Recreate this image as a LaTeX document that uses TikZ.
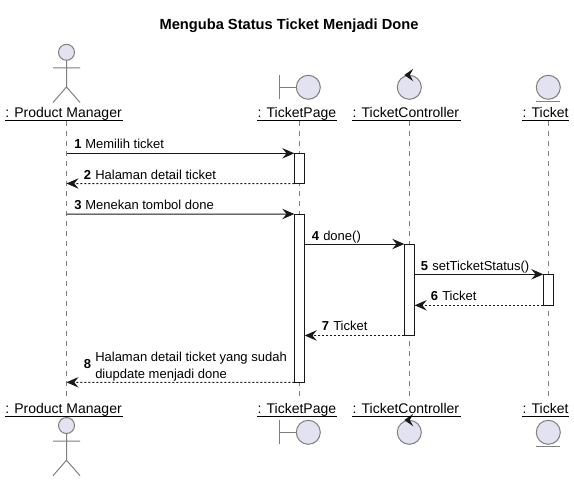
\documentclass[tikz,border=0pt]{standalone}
\usepackage{fontspec}
\setmainfont{Liberation Sans}
\usetikzlibrary{arrows.meta}
\definecolor{inkc}{HTML}{181818}
\definecolor{figfill}{HTML}{E2E2F0}
\definecolor{figline}{HTML}{7F7F7F}
\newcommand{\mfont}{\fontsize{9.75pt}{12.4pt}\selectfont}
\newcommand{\pfont}{\fontsize{10.5pt}{12.6pt}\selectfont}
\newcommand{\tfont}{\fontsize{11pt}{13pt}\selectfont}
\tikzset{
  x=.75pt,y=-.75pt,
  figstroke/.style={draw=figline,line width=.75pt},
  figbody/.style={figstroke,fill=figfill},
  lifeline/.style={draw=figline,line width=.7pt,dash pattern=on 3.75pt off 3.75pt},
  actbox/.style={draw=inkc,fill=white,line width=.75pt,minimum width=7.8pt,inner sep=0pt,outer sep=0pt},
  msg/.style={draw=inkc,line width=.75pt,-{Stealth[length=9pt,width=7.8pt,inset=3.2pt]}},
  reply/.style={msg,dash pattern=on 1.5pt off 1.5pt},
  msgtext/.style={anchor=base west,inner sep=0pt,font=\mfont,text=black},
  numtext/.style={anchor=base west,inner sep=0pt,font=\mfont\bfseries,text=black},
  parttext/.style={anchor=base west,inner sep=0pt,font=\pfont,text=black},
  under/.style={draw=black,line width=.7pt},
  pics/actorfig/.style={code={
    \draw[figbody] (0,-8.2) circle[radius=8];
    \draw[figstroke] (0,0) -- (0,26.5) (-13.5,7.5) -- (13.5,7.5) (0,26.5) -- (-13.5,42) (0,26.5) -- (13.5,42);
  }},
  pics/boundaryfig/.style={code={
    \draw[figstroke] (-29,-12) -- (-29,12) (-29,0) -- (-12,0);
    \draw[figbody] (0,0) circle[radius=12];
  }},
  pics/controlfig/.style={code={
    \draw[figbody] (0,0) circle[radius=12];
    \fill[inkc] (-5,-12.3) -- (4,-18.5) -- (0.5,-12.3) -- (4,-6) -- cycle;
  }},
  pics/entityfig/.style={code={
    \draw[figbody] (0,0) circle[radius=12];
    \draw[figstroke] (-12,14) -- (12,14);
  }},
}
\begin{document}
\begin{tikzpicture}
\useasboundingbox[fill=white] (0,0) rectangle (574,481);

% title
\node[anchor=base,inner sep=0pt,font=\tfont\bfseries] (title) at (289,30) {Menguba Status Ticket Menjadi Done};

% lifeline ends
\coordinate (pmT) at (66.5,121);  \coordinate (pmB) at (66.5,400);
\coordinate (tpT) at (299.3,121); \coordinate (tpB) at (299.3,400);
\coordinate (tcT) at (409.3,121); \coordinate (tcB) at (409.3,400);
\coordinate (tkT) at (548.3,121); \coordinate (tkB) at (548.3,400);
\draw[lifeline] (pmT) -- (pmB);
\draw[lifeline] (tpT) -- (tpB);
\draw[lifeline] (tcT) -- (tcB);
\draw[lifeline] (tkT) -- (tkB);

% figures, top
\pic at (66.5,60.5) {actorfig};
\pic at (308.3,87.3) {boundaryfig};
\pic at (409.3,87.3) {controlfig};
\pic at (548.3,87.3) {entityfig};
% figures, bottom
\pic at (66.5,433.7) {actorfig};
\pic at (308.3,432.3) {boundaryfig};
\pic at (409.3,432.3) {controlfig};
\pic at (548.3,432.3) {entityfig};

% participant labels, top
\node[parttext] (pmL) at (5,117.5) {: Product Manager};
\node[parttext] (tpL) at (257.3,117.5) {: TicketPage};
\node[parttext] (tcL) at (352.3,117.5) {: TicketController};
\node[parttext] (tkL) at (522.3,117.5) {: Ticket};
\draw[under] (5,120) -- (122.7,120);
\draw[under] (257.3,120) -- (336.7,120);
\draw[under] (352.3,120) -- (460.5,120);
\draw[under] (522.3,120) -- (568.7,120);
% participant labels, bottom
\node[parttext] (pmM) at (5,413.3) {: Product Manager};
\node[parttext] (tpM) at (257.3,413.3) {: TicketPage};
\node[parttext] (tcM) at (352.3,413.3) {: TicketController};
\node[parttext] (tkM) at (522.3,413.3) {: Ticket};
\draw[under] (5,416.3) -- (122.7,416.3);
\draw[under] (257.3,416.3) -- (336.7,416.3);
\draw[under] (352.3,416.3) -- (460.5,416.3);
\draw[under] (522.3,416.3) -- (568.7,416.3);

% activations
\node[actbox,minimum height=22.65pt] (a1) at (299.5,168.4) {};
\node[actbox,minimum height=126.2pt] (a2) at (299.5,298.15) {};
\node[actbox,minimum height=68.6pt] (a3) at (409.5,289.75) {};
\node[actbox,minimum height=23.25pt] (a4) at (548.5,289.8) {};

% message anchors on the actor lifeline
\coordinate (m1) at (66.5,153.3);
\coordinate (m2) at (66.5,183.5);
\coordinate (m3) at (66.5,214);
\coordinate (m8) at (66.5,382.3);

% messages
\draw[msg] (m1) -- (a1.north west);
\draw[reply] (a1.south west) -- (m2);
\draw[msg] (m3) -- (a2.north west);
\draw[msg] (a2.east |- a3.north) -- (a3.north west);
\draw[msg] (a3.east |- a4.north) -- (a4.north west);
\draw[reply] (a4.south west) -- (a3.east |- a4.south);
\draw[reply] (a3.south west) -- (a2.east |- a3.south);
\draw[reply] (a2.south west) -- (m8);

% message labels
\node[numtext] (n1) at (74,149) {1};
\node[msgtext] (t1) at (85,149) {Memilih ticket};
\node[numtext] (n2) at (83.5,179) {2};
\node[msgtext] (t2) at (95,179) {Halaman detail ticket};
\node[numtext] (n3) at (74,209.5) {3};
\node[msgtext] (t3) at (85,209.5) {Menekan tombol done};
\node[numtext] (n4) at (311.7,240) {4};
\node[msgtext] (t4) at (323,240) {done()};
\node[numtext] (n5) at (420.7,270) {5};
\node[msgtext] (t5) at (432,270) {setTicketStatus()};
\node[numtext] (n6) at (430.7,300.5) {6};
\node[msgtext] (t6) at (442,300.5) {Ticket};
\node[numtext] (n7) at (321.7,330.6) {7};
\node[msgtext] (t7) at (333,330.6) {Ticket};
\node[numtext] (n8) at (83.5,368) {8};
\node[msgtext] (t8a) at (95,361.7) {Halaman detail ticket yang sudah};
\node[msgtext] (t8b) at (95,378.3) {diupdate menjadi done};
\end{tikzpicture}
\end{document}
